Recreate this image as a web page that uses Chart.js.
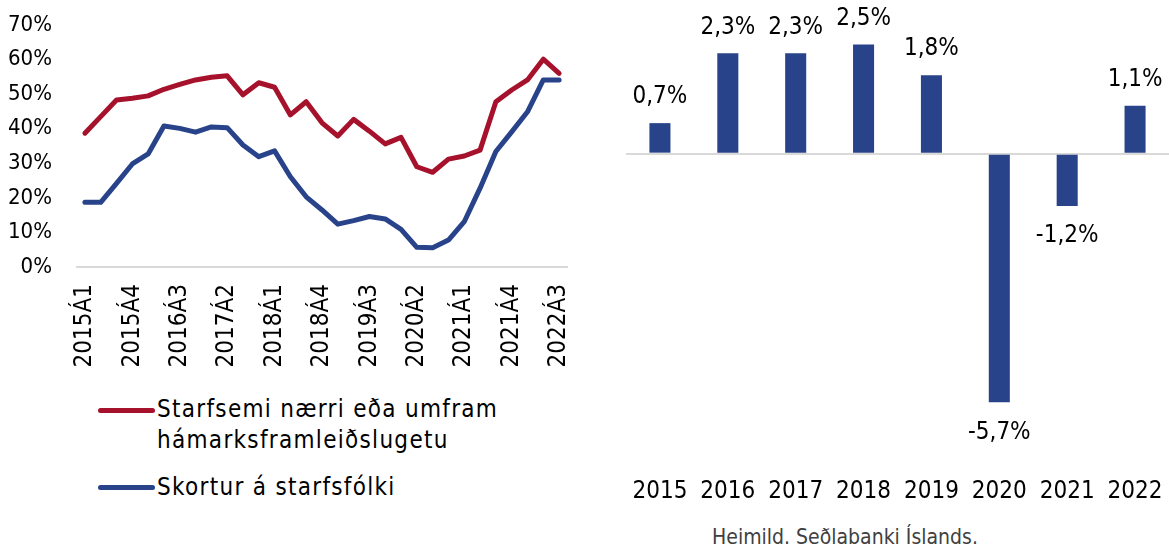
<!DOCTYPE html>
<html>
<head>
<meta charset="utf-8">
<script src="https://cdn.jsdelivr.net/npm/chart.js@4.4.1/dist/chart.umd.min.js"></script>
<style>
  html, body { margin: 0; padding: 0; background: #fff; }
  body { width: 1169px; height: 547px; position: relative; overflow: hidden;
         font-family: "DejaVu Sans Condensed", "DejaVu Sans", sans-serif; }
  #lineWrap { position: absolute; left: 0; top: 0; width: 580px; height: 380px; }
  #barWrap { position: absolute; left: 600px; top: 0; width: 569px; height: 510px; }
  .legLine { position: absolute; left: 98px; width: 57px; height: 5px; border-radius: 3px; }
  .legText { position: absolute; left: 157px; font-size: 24px; letter-spacing: 1.3px; line-height: 31px; color: #000; white-space: nowrap; }
  #source { position: absolute; left: 695px; width: 300px; top: 524px; text-align: center;
            font-size: 21px; line-height: 26px; color: #404040; white-space: nowrap; }
</style>
</head>
<body>
<div id="lineWrap"><canvas id="lineChart"></canvas></div>
<div id="barWrap"><canvas id="barChart"></canvas></div>

<div class="legLine" style="top:408px;background:#a6122b"></div>
<div class="legText" style="top:394px">Starfsemi nærri eða umfram<br>hámarksframleiðslugetu</div>
<div class="legLine" style="top:485px;background:#284389"></div>
<div class="legText" style="top:472px">Skortur á starfsfólki</div>
<div id="source">Heimild. Seðlabanki Íslands.</div>

<script>
const FONT = "DejaVu Sans Condensed";

// ---- Left chart data (quarterly, %) ----
const quarters = [
  "2015Á1","2015Á2","2015Á3","2015Á4",
  "2016Á1","2016Á2","2016Á3","2016Á4",
  "2017Á1","2017Á2","2017Á3","2017Á4",
  "2018Á1","2018Á2","2018Á3","2018Á4",
  "2019Á1","2019Á2","2019Á3","2019Á4",
  "2020Á1","2020Á2","2020Á3","2020Á4",
  "2021Á1","2021Á2","2021Á3","2021Á4",
  "2022Á1","2022Á2","2022Á3"
];
const capacityName = "Starfsemi nærri eða umfram hámarksframleiðslugetu";
const capacityValues = [
  38.7, 43.5, 48.3, 48.8, 49.5, 51.4, 52.8, 54.1, 54.9, 55.3,
  49.8, 53.3, 52.0, 44.0, 47.8, 41.7, 37.9, 42.7, 39.3, 35.6,
  37.5, 29.0, 27.4, 31.2, 32.1, 33.8, 47.8, 51.2, 54.1, 60.1, 56.0
];
const staffName = "Skortur á starfsfólki";
const staffValues = [
  18.7, 18.7, 24.2, 29.8, 32.7, 40.8, 40.1, 39.0, 40.5, 40.3,
  35.3, 31.9, 33.6, 26.1, 20.3, 16.5, 12.4, 13.4, 14.6, 13.9,
  10.9, 5.7, 5.6, 7.8, 13.1, 22.8, 33.4, 39.1, 44.9, 54.1, 54.1
];

// ---- Right chart data (annual, %) ----
const years = ["2015","2016","2017","2018","2019","2020","2021","2022"];
const growthValues = [0.7, 2.3, 2.3, 2.5, 1.8, -5.7, -1.2, 1.1];

const RED = "#a6122b";
const BLUE = "#284389";
const AXIS_GREY = "#d9d9d9";

function zeroPad(s) { s.paddingLeft = 0; s.paddingRight = 0; s.paddingTop = 0; s.paddingBottom = 0; }

new Chart(document.getElementById("lineChart"), {
  type: "line",
  data: {
    labels: quarters,
    datasets: [
      { label: capacityName, data: capacityValues, borderColor: RED, backgroundColor: RED,
        borderWidth: 5, pointRadius: 0, tension: 0, borderCapStyle: "round", borderJoinStyle: "round" },
      { label: staffName, data: staffValues, borderColor: BLUE, backgroundColor: BLUE,
        borderWidth: 5, pointRadius: 0, tension: 0, borderCapStyle: "round", borderJoinStyle: "round" }
    ]
  },
  options: {
    responsive: true, maintainAspectRatio: false, animation: false,
    layout: { padding: { top: 25, right: 13, left: 0, bottom: 0 } },
    plugins: { legend: { display: false }, tooltip: { enabled: false } },
    scales: {
      x: {
        offset: true,
        grid: { display: false, drawTicks: false },
        border: { display: true, color: AXIS_GREY, width: 2 },
        ticks: {
          autoSkip: false, maxRotation: 90, minRotation: 90, padding: 17,
          color: "#000", font: { family: FONT, size: 24 },
          callback: function(v, i) { return i % 3 === 0 ? this.getLabelForValue(v) : ""; }
        },
        afterFit: s => { s.height = 113; zeroPad(s); }
      },
      y: {
        min: 0, max: 70,
        grid: { display: false, drawTicks: false },
        border: { display: false },
        ticks: { stepSize: 10, padding: 25, color: "#000", font: { family: FONT, size: 22 },
                 callback: v => v + "%" },
        afterFit: s => { s.width = 77; zeroPad(s); }
      }
    }
  }
});

const barLabels = {
  id: "barLabels",
  afterDatasetsDraw(chart) {
    const ctx = chart.ctx;
    const meta = chart.getDatasetMeta(0);
    const vals = chart.data.datasets[0].data;
    ctx.save();
    ctx.font = "24px '" + FONT + "'";
    ctx.fillStyle = "#000";
    ctx.textAlign = "center";
    ctx.textBaseline = "middle";
    meta.data.forEach((bar, i) => {
      const v = vals[i];
      const txt = v.toFixed(1).replace(".", ",") + "%";
      const y = v >= 0 ? bar.y - 26 : bar.y + 30;
      ctx.fillText(txt, bar.x, y);
    });
    ctx.restore();
  }
};

new Chart(document.getElementById("barChart"), {
  type: "bar",
  data: {
    labels: years,
    datasets: [{ data: growthValues, backgroundColor: BLUE, borderWidth: 0,
                 categoryPercentage: 1, barPercentage: 0.31 }]
  },
  options: {
    responsive: true, maintainAspectRatio: false, animation: false,
    layout: { padding: { top: 1, right: 0, left: 26, bottom: 0 } },
    plugins: { legend: { display: false }, tooltip: { enabled: false } },
    scales: {
      x: {
        grid: { display: false, drawTicks: false },
        border: { display: false },
        ticks: { padding: 18, color: "#000", font: { family: FONT, size: 24 } },
        afterFit: s => { s.height = 51; zeroPad(s); }
      },
      y: {
        min: -7, max: 3.5,
        grid: { drawTicks: false, lineWidth: 2,
                color: c => (c.tick && c.tick.value === 0) ? AXIS_GREY : "rgba(0,0,0,0)" },
        border: { display: false },
        ticks: { display: false, stepSize: 1 },
        afterFit: s => { s.width = 0; zeroPad(s); }
      }
    }
  },
  plugins: [barLabels]
});
</script>
</body>
</html>
